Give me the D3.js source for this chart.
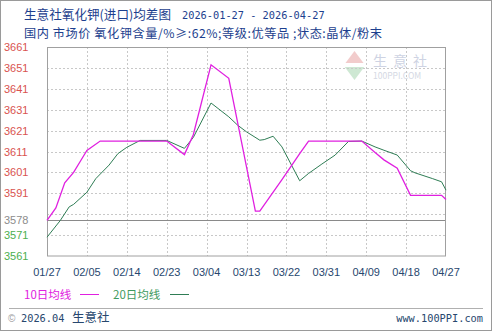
<!DOCTYPE html>
<html><head><meta charset="utf-8">
<script src="https://cdn.jsdelivr.net/npm/d3@7/dist/d3.min.js"></script>
<style>
html,body{margin:0;padding:0;background:#fff;}
svg{display:block;}
text{font-family:"Noto Sans CJK SC","Liberation Sans",sans-serif;}
</style></head>
<body>
<script>
const titleText = "生意社氧化钾(进口)均差图";
const dateRange = "2026-01-27 - 2026-04-27";
const subtitle = "国内 市场价 氧化钾含量/%≥:62%;等级:优等品 ;状态:晶体/粉末";
const xTickLabels = ["01/27","02/05","02/14","02/23","03/04","03/13","03/22","03/31","04/09","04/18","04/27"];
const yTickValues = [3561,3571,3578,3591,3601,3611,3621,3631,3641,3651,3661];
const gridValues = [3571,3581,3591,3601,3611,3621,3631,3641,3651];
const averageValue = 3578;

const ma10Dates = ["01-27","01-29","01-31","02-02","02-04","02-05","02-08","02-17","02-23","02-27","03-01","03-05","03-09","03-15","03-16","03-21","03-25","03-27","04-08","04-11","04-13","04-16","04-19","04-26","04-27"];
const ma10Values = [3578,3584,3596,3601,3608,3611.5,3616,3616,3616,3609.5,3619,3652.5,3646,3582.5,3582.5,3597.5,3610,3616,3616,3610.5,3607,3603,3590,3590,3588];

const ma20Dates = ["01-27","01-30","02-01","02-02","02-05","02-07","02-10","02-12","02-14","02-17","02-23","02-27","03-01","03-05","03-09","03-11","03-13","03-16","03-17","03-19","03-21","03-25","03-27","03-30","04-02","04-05","04-08","04-11","04-13","04-16","04-19","04-20","04-24","04-26","04-27"];
const ma20Values = [3570,3578,3584.5,3585.7,3591.5,3598,3604.5,3610,3613,3616.3,3616.3,3612.5,3617.7,3634.2,3627.6,3623.6,3620.4,3616.4,3616.7,3618.3,3613.2,3597,3600.5,3605,3609.3,3615.8,3616,3613.2,3611.6,3609.3,3601.8,3600.8,3598,3596.5,3592.5];

const W = 493, H = 332;
const parse = d3.utcParse("%Y-%m-%d");
const toDate = s => parse("2026-" + s);
const ma10 = ma10Dates.map((d,i)=>({date:toDate(d), value:ma10Values[i]}));
const ma20 = ma20Dates.map((d,i)=>({date:toDate(d), value:ma20Values[i]}));
const xTickDates = xTickLabels.map(s => toDate(s.replace("/","-")));

const svg = d3.select("body").append("svg").attr("width", W).attr("height", H);

// outer border
svg.append("rect").attr("x",0.5).attr("y",0.5).attr("width",W-2).attr("height",H-2)
  .attr("fill","#fff").attr("stroke","#9a9a9a");

const x = d3.scaleUtc().domain([toDate("01-27"), toDate("04-27")]).range([47, 446]);
const y = d3.scaleLinear().domain([3561, 3661]).range([256, 47]);

// title
const navy = "#1d3f8e";
svg.append("text").attr("x",24).attr("y",19).attr("fill",navy).attr("font-size",12.6).text(titleText);
svg.append("text").attr("x",182).attr("y",18.5).attr("fill",navy)
  .style("font-family","'DejaVu Sans Mono',monospace").attr("font-size",10.3).text(dateRange);
svg.append("text").attr("x",24).attr("y",37.5).attr("fill",navy).attr("font-size",12.2)
  .attr("letter-spacing",0.55).text(subtitle);

// watermark
const wm = svg.append("g").attr("opacity",0.5);
wm.append("path").attr("d","M344,65 L354.5,51 L365,65 Z").attr("fill","#e79a9a");
wm.append("path").attr("d","M344,66 L354.5,80 L365,66 Z").attr("fill","#9fd3a8");
wm.append("rect").attr("x",344).attr("y",63).attr("width",21).attr("height",4).attr("fill","#fff");
wm.append("text").attr("x",373).attr("y",66).attr("font-size",14).attr("fill","#9ea9c8")
  .attr("letter-spacing",6).text("生意社");
wm.append("text").attr("x",373).attr("y",79).attr("font-size",8.5).attr("fill","#aab2c8").text("100PPI.COM");

// grid
const g = svg.append("g");
g.selectAll("line.hg").data(gridValues).join("line")
  .attr("x1",47).attr("x2",446).attr("y1",d=>Math.round(y(d))+0.5).attr("y2",d=>Math.round(y(d))+0.5)
  .attr("stroke","#c8c8c8").attr("stroke-dasharray","2,2");
g.selectAll("line.vg").data(xTickDates.slice(1,-1)).join("line")
  .attr("y1",47).attr("y2",256).attr("x1",d=>Math.round(x(d))+0.5).attr("x2",d=>Math.round(x(d))+0.5)
  .attr("stroke","#c8c8c8").attr("stroke-dasharray","2,2");

// average line
g.append("line").attr("x1",47).attr("x2",446)
  .attr("y1",Math.round(y(averageValue))+0.5).attr("y2",Math.round(y(averageValue))+0.5)
  .attr("stroke","#8a8a8a").attr("stroke-width",1);

// plot border
g.append("rect").attr("x",47.5).attr("y",47.5).attr("width",398).attr("height",208.5)
  .attr("fill","none").attr("stroke","#a0a0a0");

// y axis labels
svg.append("g").selectAll("text").data(yTickValues).join("text")
  .attr("x",4).attr("y",d=>y(d)+4).attr("font-size",11)
  .style("font-family","'Liberation Sans',sans-serif")
  .attr("fill",d=> d>averageValue ? "#d9534f" : (d===averageValue ? "#8c8c8c" : "#4caf50"))
  .text(d=>d);

// x axis labels
svg.append("g").selectAll("text").data(xTickDates).join("text")
  .attr("x",d=>x(d)).attr("y",276).attr("text-anchor","middle").attr("font-size",11)
  .style("font-family","'Liberation Sans',sans-serif")
  .attr("fill","#27476e").text((d,i)=>xTickLabels[i]);

// lines
const line = d3.line().x(d=>x(d.date)).y(d=>y(d.value));
svg.append("path").datum(ma20).attr("d",line).attr("fill","none").attr("stroke","#2f7d55").attr("stroke-width",1);
svg.append("path").datum(ma10).attr("d",line).attr("fill","none").attr("stroke","#e020e0").attr("stroke-width",1.3);

// legend
svg.append("text").attr("x",24).attr("y",298.5).attr("font-size",11.5).attr("fill","#e020e0").text("10日均线");
svg.append("line").attr("x1",80).attr("x2",99).attr("y1",294.5).attr("y2",294.5).attr("stroke","#e020e0");
svg.append("text").attr("x",113).attr("y",298.5).attr("font-size",11.5).attr("fill","#3f9a5e").text("20日均线");
svg.append("line").attr("x1",170).attr("x2",189).attr("y1",294.5).attr("y2",294.5).attr("stroke","#2f7d55");

// footer
svg.append("line").attr("x1",9).attr("x2",483).attr("y1",308.5).attr("y2",308.5).attr("stroke","#b0b0b0");
svg.append("text").attr("x",8).attr("y",321.5).attr("font-size",10).attr("fill","#999")
  .style("font-family","'Liberation Sans',sans-serif").text("©");
svg.append("text").attr("x",21).attr("y",321.5).attr("font-size",10.3).attr("fill","#27476e")
  .style("font-family","'DejaVu Sans Mono',monospace").text("2026.04");
svg.append("text").attr("x",72).attr("y",322).attr("font-size",12.5).attr("fill","#27476e").text("生意社");
svg.append("text").attr("x",483).attr("y",321.5).attr("text-anchor","end").attr("font-size",10.3).attr("fill","#27476e")
  .style("font-family","'DejaVu Sans Mono',monospace").text("www.100PPI.com");
</script>
</body></html>
